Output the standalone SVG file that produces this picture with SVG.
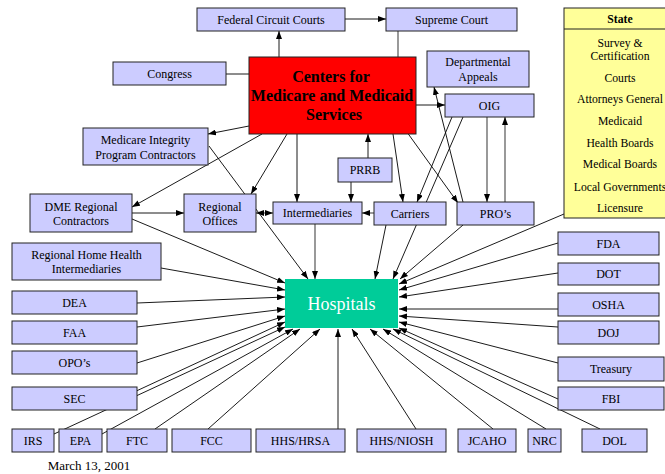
<svg xmlns="http://www.w3.org/2000/svg" width="665" height="474" viewBox="0 0 665 474">
<defs>
<marker id="ah" markerUnits="userSpaceOnUse" markerWidth="8" markerHeight="6" refX="8" refY="3" orient="auto-start-reverse"><path d="M0,0 L8,3 L0,6 z" fill="#000"/></marker>
<style>
.b{fill:#CCCCFF;stroke:#222;stroke-width:1}
.t{font-family:"Liberation Serif","Times New Roman",serif;font-size:12px;fill:#000;text-anchor:middle}
.s{font-size:11.7px}
.h{font-size:16px;font-weight:bold}
.c{fill:none;stroke:#000;stroke-width:0.9;marker-end:url(#ah)}
.g{fill:none;stroke:#808080;stroke-width:1.6}
.ga{fill:none;stroke:#808080;stroke-width:1.6;marker-end:url(#ah)}
.l{fill:none;stroke:#000;stroke-width:0.9}
</style>
</defs>
<rect width="665" height="474" fill="#fff"/>
<g id="connectors">
<line class="c" x1="345" y1="19" x2="386" y2="19"/>
<line class="c" x1="279" y1="57" x2="279" y2="31"/>
<line class="g" x1="398" y1="31" x2="398" y2="57"/>
<line class="l" x1="226" y1="74" x2="249" y2="74"/>
<line class="c" x1="249" y1="126" x2="208" y2="134"/>
<line class="c" x1="416" y1="105" x2="445" y2="105"/>
<line class="c" x1="368" y1="158" x2="368" y2="134"/>
<line class="c" x1="351" y1="182" x2="351" y2="202"/>
<line class="c" x1="262" y1="134" x2="132" y2="207"/>
<line class="c" x1="287" y1="134" x2="251" y2="194"/>
<line class="c" x1="297" y1="134" x2="297" y2="202"/>
<line class="c" x1="209" y1="146" x2="308" y2="279"/>
<line class="c" x1="132" y1="213" x2="184" y2="213"/>
<line class="g" x1="256" y1="213" x2="273" y2="213" marker-start="url(#ah)" marker-end="url(#ah)"/>
<line class="ga" x1="374" y1="213" x2="362" y2="213"/>
<line class="ga" x1="315" y1="224" x2="315" y2="279"/>
<line class="c" x1="393" y1="134" x2="403" y2="202"/>
<line class="c" x1="404" y1="128" x2="458" y2="203"/>
<line class="c" x1="452" y1="117" x2="417" y2="202"/>
<line class="c" x1="463" y1="117" x2="393" y2="279"/>
<line class="c" x1="463" y1="202" x2="434" y2="87"/>
<line class="ga" x1="487" y1="117" x2="487" y2="202"/>
<line class="ga" x1="505" y1="202" x2="505" y2="117"/>
<line class="c" x1="386" y1="225" x2="375" y2="279"/>
<line class="c" x1="463" y1="225" x2="400" y2="279"/>
<line class="c" x1="564" y1="214" x2="399" y2="284"/>
<line class="c" x1="558" y1="243" x2="399" y2="290"/>
<line class="c" x1="558" y1="273" x2="399" y2="297"/>
<line class="c" x1="558" y1="309" x2="399" y2="309"/>
<line class="c" x1="558" y1="327" x2="399" y2="316"/>
<line class="c" x1="558" y1="363" x2="399" y2="322"/>
<line class="c" x1="558" y1="399" x2="399" y2="328"/>
<line class="c" x1="600" y1="429" x2="393" y2="329"/>
<line class="c" x1="546" y1="429" x2="383" y2="329"/>
<line class="c" x1="493" y1="429" x2="370" y2="329"/>
<line class="c" x1="416" y1="429" x2="352" y2="329"/>
<line class="c" x1="338" y1="429" x2="338" y2="329"/>
<line class="c" x1="132" y1="219" x2="285" y2="283"/>
<line class="c" x1="161" y1="268" x2="285" y2="290"/>
<line class="c" x1="137" y1="303" x2="285" y2="297"/>
<line class="c" x1="137" y1="327" x2="285" y2="309"/>
<line class="c" x1="137" y1="363" x2="285" y2="316"/>
<line class="c" x1="132" y1="393" x2="285" y2="322"/>
<line class="c" x1="54" y1="434" x2="285" y2="327"/>
<line class="c" x1="102" y1="434" x2="293" y2="329"/>
<line class="c" x1="155" y1="429" x2="300" y2="329"/>
<line class="c" x1="208" y1="429" x2="320" y2="329"/>
</g>
<g id="fcc"><rect class="b" x="197" y="8" width="148" height="23"/><text class="t" x="271" y="23.5">Federal Circuit Courts</text></g>
<g id="supreme"><rect class="b" x="386" y="8" width="131" height="23"/><text class="t" x="451.5" y="23.5">Supreme Court</text></g>
<g id="congress"><rect class="b" x="113" y="62" width="113" height="23"/><text class="t" x="169.5" y="77.5">Congress</text></g>
<g id="cms"><rect x="249" y="57" width="167" height="77" fill="#FF0000" stroke="#222" stroke-width="1"/>
<text class="t h" x="331" y="82">Centers for</text>
<text class="t h" x="332" y="101">Medicare and Medicaid</text>
<text class="t h" x="334" y="120">Services</text></g>
<g id="appeals"><rect class="b" x="427" y="51" width="102" height="36"/><text class="t" x="478" y="66">Departmental</text><text class="t" x="478" y="81">Appeals</text></g>
<g id="oig"><rect class="b" x="445" y="94" width="89" height="23"/><text class="t" x="489.5" y="109.5">OIG</text></g>
<g id="state"><rect x="564" y="8" width="112" height="210" fill="#FFFF99" stroke="#222" stroke-width="1"/>
<line x1="564" y1="29" x2="676" y2="29" stroke="#222" stroke-width="1"/>
<text class="t s" x="620" y="23" style="font-weight:bold">State</text>
<text class="t s" x="620" y="47">Survey  &amp;</text>
<text class="t s" x="620" y="60">Certification</text>
<text class="t s" x="620" y="82">Courts</text>
<text class="t s" x="620" y="103">Attorneys General</text>
<text class="t s" x="620" y="125">Medicaid</text>
<text class="t s" x="620" y="147">Health Boards</text>
<text class="t s" x="620" y="168">Medical Boards</text>
<text class="t s" x="620" y="191">Local Governments</text>
<text class="t s" x="620" y="212">Licensure</text></g>
<g id="mipc"><rect class="b" x="83" y="128" width="125" height="37"/><text class="t" x="145.5" y="144">Medicare Integrity</text><text class="t" x="145.5" y="159">Program Contractors</text></g>
<g id="prrb"><rect class="b" x="338" y="158" width="54" height="24"/><text class="t" x="365" y="174">PRRB</text></g>
<g id="dme"><rect class="b" x="30" y="194" width="102" height="38"/><text class="t" x="81" y="211">DME Regional</text><text class="t" x="81" y="225">Contractors</text></g>
<g id="regional"><rect class="b" x="184" y="194" width="72" height="38"/><text class="t" x="220" y="211">Regional</text><text class="t" x="220" y="225">Offices</text></g>
<g id="intermediaries"><rect class="b" x="273" y="202" width="89" height="22"/><text class="t" x="317.5" y="217">Intermediaries</text></g>
<g id="carriers"><rect class="b" x="374" y="202" width="72" height="23"/><text class="t" x="410" y="217.5">Carriers</text></g>
<g id="pros"><rect class="b" x="457" y="202" width="77" height="23"/><text class="t" x="495.5" y="217.5">PRO’s</text></g>
<g id="rhhi"><rect class="b" x="12" y="243" width="149" height="37"/><text class="t" x="86.5" y="259">Regional Home Health</text><text class="t" x="86.5" y="273">Intermediaries</text></g>
<g id="dea"><rect class="b" x="12" y="291" width="125" height="23"/><text class="t" x="74.5" y="306.5">DEA</text></g>
<g id="faa"><rect class="b" x="12" y="321" width="125" height="23"/><text class="t" x="74.5" y="336.5">FAA</text></g>
<g id="opos"><rect class="b" x="12" y="351" width="125" height="23"/><text class="t" x="74.5" y="366.5">OPO’s</text></g>
<g id="sec"><rect class="b" x="12" y="387" width="125" height="23"/><text class="t" x="74.5" y="402.5">SEC</text></g>
<g id="irs"><rect class="b" x="12" y="429" width="42" height="23"/><text class="t" x="33" y="444.5">IRS</text></g>
<g id="epa"><rect class="b" x="59" y="429" width="43" height="23"/><text class="t" x="80.5" y="444.5">EPA</text></g>
<g id="ftc"><rect class="b" x="107" y="429" width="60" height="23"/><text class="t" x="137" y="444.5">FTC</text></g>
<g id="fccb"><rect class="b" x="172" y="429" width="79" height="23"/><text class="t" x="211.5" y="444.5">FCC</text></g>
<g id="hrsa"><rect class="b" x="256" y="429" width="89" height="23"/><text class="t" x="300.5" y="444.5">HHS/HRSA</text></g>
<g id="niosh"><rect class="b" x="357" y="429" width="89" height="23"/><text class="t" x="401.5" y="444.5">HHS/NIOSH</text></g>
<g id="jcaho"><rect class="b" x="458" y="429" width="58" height="23"/><text class="t" x="487" y="444.5">JCAHO</text></g>
<g id="nrc"><rect class="b" x="528" y="429" width="33" height="23"/><text class="t" x="544.5" y="444.5">NRC</text></g>
<g id="dol"><rect class="b" x="582" y="429" width="65" height="23"/><text class="t" x="614.5" y="444.5">DOL</text></g>
<g id="fda"><rect class="b" x="558" y="232" width="101" height="23"/><text class="t" x="608.5" y="247.5">FDA</text></g>
<g id="dot"><rect class="b" x="558" y="263" width="101" height="22"/><text class="t" x="608.5" y="278">DOT</text></g>
<g id="osha"><rect class="b" x="558" y="293" width="101" height="23"/><text class="t" x="608.5" y="308.5">OSHA</text></g>
<g id="doj"><rect class="b" x="558" y="321" width="101" height="23"/><text class="t" x="608.5" y="336.5">DOJ</text></g>
<g id="treasury"><rect class="b" x="558" y="357" width="106" height="24"/><text class="t" x="611" y="373">Treasury</text></g>
<g id="fbi"><rect class="b" x="558" y="387" width="106" height="23"/><text class="t" x="611" y="402.5">FBI</text></g>
<g id="hospitals"><rect x="285" y="279" width="113" height="49" fill="#00CC99"/><text class="t" x="341.5" y="310" style="font-size:18px;fill:#fff">Hospitals</text></g>
<text class="t" x="89" y="470" style="font-size:13px">March 13, 2001</text>
</svg>
